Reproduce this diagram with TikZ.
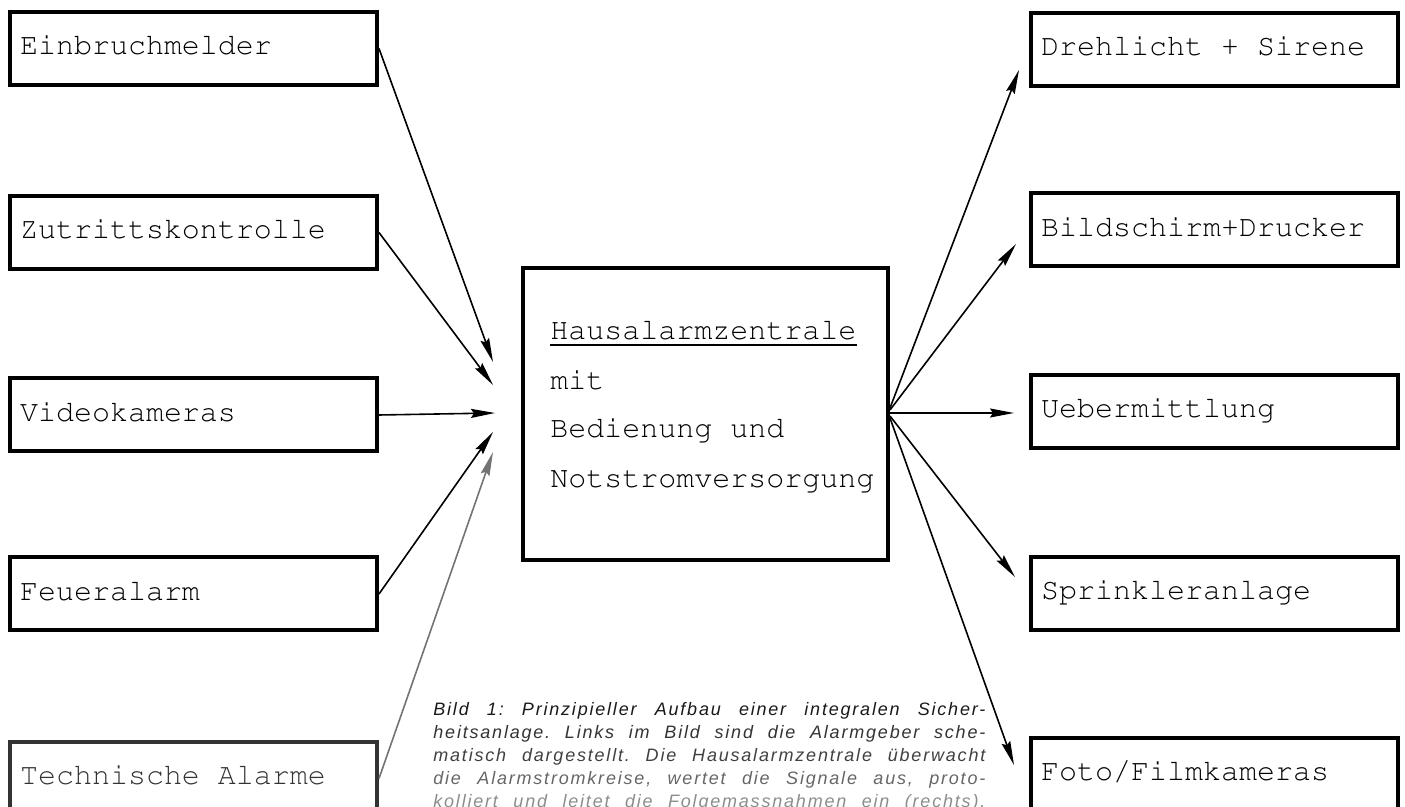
\documentclass[tikz,border=0pt]{standalone}
\usepackage[T1]{fontenc}
\usepackage{fontspec}
\newfontfamily\capfont{Liberation Sans}[LetterSpace=10]
\newcommand{\courfont}{\fontencoding{T1}\fontfamily{pcr}\fontseries{m}\fontshape{n}\fontsize{15}{18}\selectfont}
\newcommand{\bx}[1]{\makebox[173.5pt][l]{#1}}
\usetikzlibrary{arrows.meta,calc}
\begin{document}
\begin{tikzpicture}[x=0.5pt,y=-0.5pt,
  box/.style={draw, line width=2pt, rectangle, inner xsep=5pt, inner ysep=2pt,
    minimum height=36.5pt, text height=10pt, text depth=3.5pt, font=\courfont},
  arr/.style={line width=0.8pt, -{Stealth[length=12pt,width=4.5pt,inset=1.5pt]}},
  ctext/.style={anchor=base west, inner sep=0pt, font=\courfont},
  captext/.style={anchor=base west, inner sep=0pt, font=\capfont\itshape\fontsize{9}{11.5}\selectfont\frenchspacing}]
\useasboundingbox (0,0) rectangle (1405,807);

% left boxes
\node[box] (ein) at (193.5,48.5) {\bx{Einbruchmelder}};
\node[box] (zut) at (193.5,232.5) {\bx{Zutrittskontrolle}};
\node[box] (vid) at (193.5,415) {\bx{Videokameras}};
\node[box] (feu) at (193.5,594) {\bx{Feueralarm}};
\node[box, draw=black!80, text=black!80] (tec) at (193.5,778.5) {\bx{Technische Alarme}};

% right boxes
\node[box] (dre) at (1214.5,49.5) {\bx{Drehlicht + Sirene}};
\node[box] (bil) at (1214.5,230) {\bx{Bildschirm+Drucker}};
\node[box] (ueb) at (1214.5,411.5) {\bx{Uebermittlung}};
\node[box] (spr) at (1214.5,593.5) {\bx{Sprinkleranlage}};
\node[box] (fot) at (1214.5,774.5) {\bx{Foto/Filmkameras}};

% central box
\node[draw, line width=2pt, minimum width=182.5pt, minimum height=146pt] (hz) at (705.5,414) {};
\node[ctext] (hz1) at (550,340) {Hausalarmzentrale};
\draw[line width=0.7pt] ($(hz1.base west)+(0,5)$) -- ($(hz1.base east)+(0,5)$);
\node[ctext] (hz2) at (550,390) {mit};
\node[ctext] (hz3) at (550,438) {Bedienung und};
\node[ctext] (hz4) at (550,488) {Notstromversorgung};

% inputs
\draw[arr] (ein.east) -- ($(hz.west)+(-28,-52)$);
\draw[arr] (zut.east) -- ($(hz.west)+(-28,-29)$);
\draw[arr] (vid.east) -- ($(hz.west)+(-26,-1)$);
\draw[arr] (feu.east) -- ($(hz.west)+(-28,18)$);
\draw[arr, draw=black!55, fill=black!55] (tec.east) -- ($(hz.west)+(-28,38)$);

% outputs
\draw[arr] ($(hz.east)+(0,-6)$) -- ($(dre.west)+(-10,20.5)$);
\draw[arr] ($(hz.east)+(0,-4)$) -- ($(bil.west)+(-13,14)$);
\draw[arr] ($(hz.east)+(0,-1)$) -- ($(ueb.west)+(-15,1.5)$);
\draw[arr] ($(hz.east)+(0,2)$) -- ($(spr.west)+(-14,-16.5)$);
\draw[arr] ($(hz.east)+(0,4)$) -- ($(fot.west)+(-15,-9.5)$);

% caption
\node[captext, text=black!90] (c1) at (433,716) {\makebox[276pt][s]{Bild 1: Prinzipieller Aufbau einer integralen Sicher-}};
\node[captext, text=black!80] (c2) at (433,739) {\makebox[276pt][s]{heitsanlage. Links im Bild sind die Alarmgeber sche-}};
\node[captext, text=black!75] (c3) at (433,762) {\makebox[276pt][s]{matisch dargestellt. Die Hausalarmzentrale überwacht}};
\node[captext, text=black!60] (c4) at (433,785) {\makebox[276pt][s]{die Alarmstromkreise, wertet die Signale aus, proto-}};
\node[captext, text=black!45] (c5) at (433,808) {\makebox[276pt][s]{kolliert und leitet die Folgemassnahmen ein (rechts).}};
\end{tikzpicture}
\end{document}
